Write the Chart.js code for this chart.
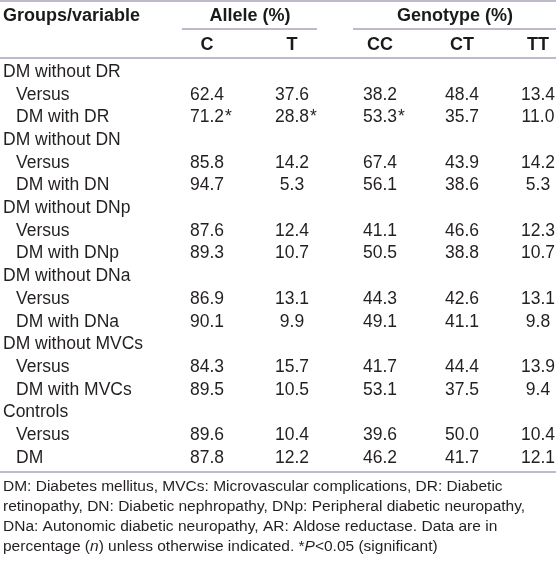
<!DOCTYPE html>
<html>
<head>
<meta charset="utf-8">
<script src="https://cdn.jsdelivr.net/npm/chart.js@4"></script>
<style>
  html, body { margin: 0; padding: 0; background: #fff; }
  canvas { display: block; }
</style>
</head>
<body>
<canvas id="tableChart" width="556" height="564"></canvas>
<script>
// table data
const groupLabels = ['DM without DR', 'DM without DN', 'DM without DNp', 'DM without DNa', 'DM without MVCs', 'Controls'];
const compareLabels = ['DM with DR', 'DM with DN', 'DM with DNp', 'DM with DNa', 'DM with MVCs', 'DM'];
const columnLabels = ['C', 'T', 'CC', 'CT', 'TT'];
const alleleC = [62.4, 71.2, 85.8, 94.7, 87.6, 89.3, 86.9, 90.1, 84.3, 89.5, 89.6, 87.8];
const alleleT = [37.6, 28.8, 14.2, 5.3, 12.4, 10.7, 13.1, 9.9, 15.7, 10.5, 10.4, 12.2];
const genoCC = [38.2, 53.3, 67.4, 56.1, 41.1, 50.5, 44.3, 49.1, 41.7, 53.1, 39.6, 46.2];
const genoCT = [48.4, 35.7, 43.9, 38.6, 46.6, 38.8, 42.6, 41.1, 44.4, 37.5, 50.0, 41.7];
const genoTT = [13.4, 11.0, 14.2, 5.3, 12.3, 10.7, 13.1, 9.8, 13.9, 9.4, 10.4, 12.1];
const significant = ['1:C', '1:T', '1:CC']; // value row : column
const footnote = [
    [['DM: Diabetes mellitus, MVCs: Microvascular complications, DR: Diabetic', false]],
    [['retinopathy, DN: Diabetic nephropathy, DNp: Peripheral diabetic neuropathy,', false]],
    [['DNa: Autonomic diabetic neuropathy, AR: Aldose reductase. Data are in', false]],
    [['percentage (', false], ['n', true], [') unless otherwise indicated. *', false], ['P', true], ['<0.05 (significant)', false]],
];

const TEXT = '#231f20';
const RULE = '#85739a';
const FONT = '"Liberation Sans", Arial, sans-serif';
const colX = [207, 292, 380, 462, 538];
const rowPx = 22.706;
const yMin = -72 / rowPx;
const yMax = yMin + 564 / rowPx;
const rowOf = (px) => yMin + px / rowPx;

const columns = [alleleC, alleleT, genoCC, genoCT, genoTT];

const labelData = [];
groupLabels.forEach((g, i) => {
    labelData.push({ x: 3, y: i * 3, text: g });
    labelData.push({ x: 16, y: i * 3 + 1, text: 'Versus' });
    labelData.push({ x: 16, y: i * 3 + 2, text: compareLabels[i] });
});

const datasets = [{ kind: 'label', data: labelData, pointRadius: 0 }];
columns.forEach((vals, c) => {
    datasets.push({
        kind: 'value',
        data: vals.map((v, k) => ({
            x: colX[c],
            y: Math.floor(k / 2) * 3 + 1 + (k % 2),
            text: v.toFixed(1),
            sig: significant.includes(k + ':' + columnLabels[c]),
        })),
        pointRadius: 0,
    });
});

const tablePlugin = {
    id: 'tablePlugin',
    afterDatasetsDraw(chart) {
        const ctx = chart.ctx;
        const xs = chart.scales.x;
        const ys = chart.scales.y;
        const X = (v) => xs.getPixelForValue(v);
        const Y = (px) => ys.getPixelForValue(rowOf(px));
        ctx.save();
        ctx.textBaseline = 'middle';

        // rules
        ctx.strokeStyle = RULE;
        ctx.lineWidth = 1.2;
        const rule = (x1, x2, py) => {
            ctx.beginPath();
            ctx.moveTo(X(x1), Y(py));
            ctx.lineTo(X(x2), Y(py));
            ctx.stroke();
        };
        rule(0, 556, 1);
        rule(182, 317, 29);
        rule(353, 556, 29);
        rule(0, 556, 58);
        rule(0, 556, 472);

        // headers
        ctx.fillStyle = '#1a1a1a';
        ctx.font = 'bold 18px ' + FONT;
        ctx.textAlign = 'left';
        ctx.fillText('Groups/variable', X(3), Y(16));
        ctx.textAlign = 'center';
        ctx.fillText('Allele (%)', X(250), Y(16));
        ctx.fillText('Genotype (%)', X(455), Y(16));
        columnLabels.forEach((l, c) => ctx.fillText(l, X(colX[c]), Y(45)));

        // cells
        ctx.fillStyle = TEXT;
        ctx.font = '17.5px ' + FONT;
        chart.data.datasets.forEach((ds, i) => {
            const meta = chart.getDatasetMeta(i);
            meta.data.forEach((el, j) => {
                const d = ds.data[j];
                if (ds.kind === 'label') {
                    ctx.textAlign = 'left';
                    ctx.fillText(d.text, el.x, el.y);
                } else {
                    ctx.textAlign = 'center';
                    ctx.fillText(d.text, el.x, el.y);
                    if (d.sig) {
                        ctx.textAlign = 'left';
                        ctx.fillText('*', el.x + ctx.measureText(d.text).width / 2 + 1, el.y);
                    }
                }
            });
        });

        // footnote
        ctx.textAlign = 'left';
        footnote.forEach((parts, li) => {
            let x = X(3);
            const y = Y(487 + li * 20);
            parts.forEach(([t, it]) => {
                ctx.font = (it ? 'italic ' : '') + '15.5px ' + FONT;
                ctx.fillText(t, x, y);
                x += ctx.measureText(t).width;
            });
        });
        ctx.restore();
    },
};

new Chart(document.getElementById('tableChart'), {
    type: 'scatter',
    data: { datasets },
    options: {
        responsive: false,
        animation: false,
        events: [],
        layout: { padding: 0 },
        plugins: { legend: { display: false }, tooltip: { enabled: false } },
        scales: {
            x: { type: 'linear', min: 0, max: 556, display: false },
            y: { type: 'linear', min: yMin, max: yMax, reverse: true, display: false },
        },
    },
    plugins: [tablePlugin],
});
</script>
</body>
</html>
